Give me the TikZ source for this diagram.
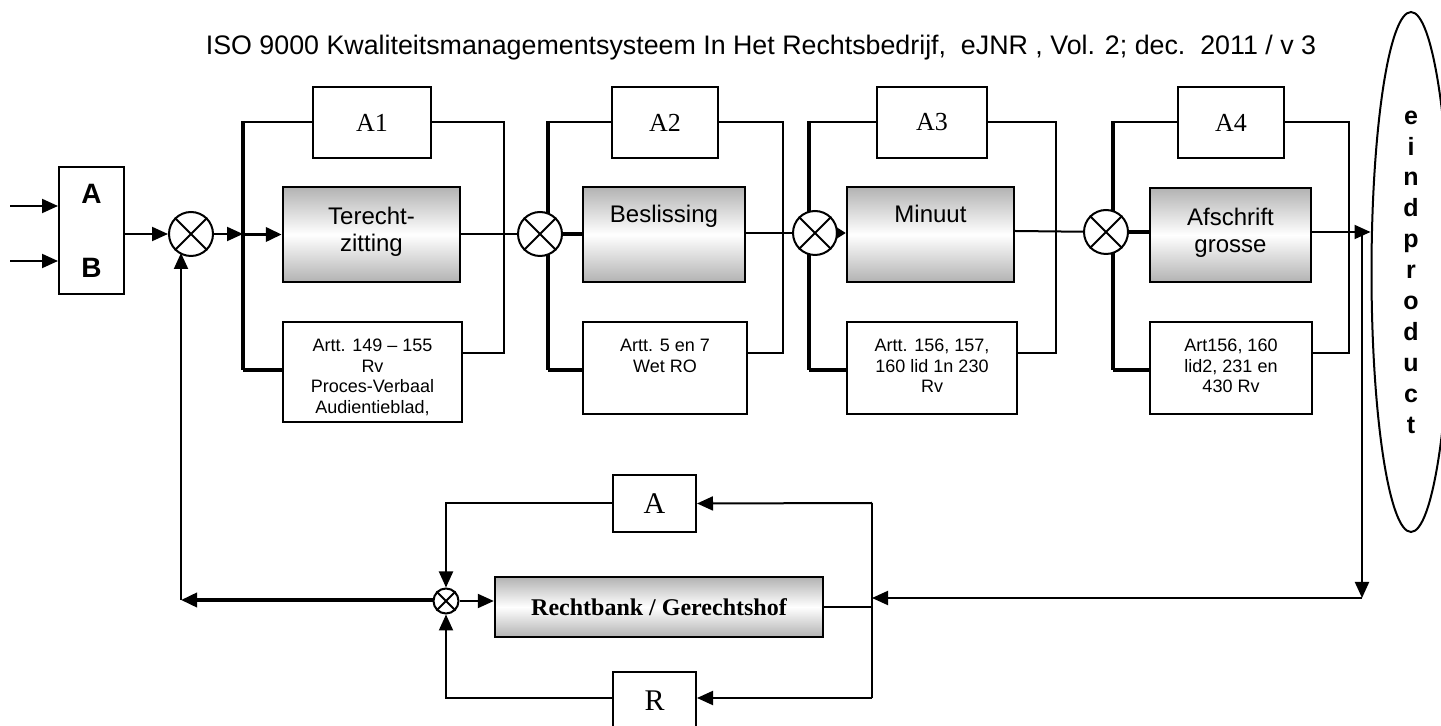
\documentclass[tikz,border=0pt]{standalone}
\usepackage{fontspec}
\setmainfont{Liberation Serif}
\setsansfont{Liberation Sans}
\usetikzlibrary{positioning,arrows.meta,shapes.geometric}

% text in a box of fixed size, first baseline at a given depth
\newcommand{\boxtxt}[4]{\parbox[c][#1][t]{#2}{\centering\rule{0pt}{#3}#4}}

\tikzset{
  line/.style={line width=1pt},
  bar/.style={line width=2pt},
  arr/.style={line width=1pt,-{Triangle[length=8pt,width=7pt]}},
  bararr/.style={line width=1.8pt,-{Triangle[length=8pt,width=7pt]}},
  mixer/.style={circle,draw,line width=1pt,fill=white,minimum size=22pt,inner sep=0pt},
  abox/.style={draw,line width=1pt,fill=white,minimum height=35.5pt,inner sep=0pt,font=\fontsize{13}{15}\selectfont},
  procbox/.style={draw,line width=1.2pt,inner sep=0pt,top color=gray!60,bottom color=gray!60,middle color=white,font=\sffamily\fontsize{12}{13.5}\selectfont},
  artbox/.style={draw,line width=1pt,fill=white,inner sep=0pt,font=\sffamily\fontsize{9}{10.4}\selectfont},
}

\begin{document}
\begin{tikzpicture}[x=0.5pt,y=-0.5pt]
\clip (0,0) rectangle (1441,726);

\node[font=\sffamily\fontsize{13.4}{16}\selectfont] (title) at (761,48)
  {ISO 9000 Kwaliteitsmanagementsysteem In Het Rechtsbedrijf,\ \ eJNR , Vol. 2; dec.\ \ 2011 / v 3};

% rails of the four stages
\foreach \i/\x/\r in {1/243/504,2/548/783,3/809/1056,4/1113/1349}{
  \coordinate (b\i t) at (\x,121);
  \coordinate (b\i b) at (\x,370);
  \coordinate (r\i) at (\r,353);
  \draw[bar] (b\i t) -- (b\i b);
}

% input
\node[draw,line width=1pt,minimum width=32.5pt,minimum height=63.5pt,align=center,
  font=\sffamily\bfseries\fontsize{14}{37}\selectfont] (ab) at (91.5,231) {A\\B};
\coordinate (inA) at (10,206);
\coordinate (inB) at (10,261);
\draw[arr] (inA) -- (inA -| ab.west);
\draw[arr] (inB) -- (inB -| ab.west);

% mixers
\node[mixer] (m1) at (191,234) {};
\node[mixer] (m2) at (540,234) {};
\node[mixer] (m3) at (815,233) {};
\node[mixer] (m4) at (1106,232) {};

% stage boxes
\node[abox,minimum width=59pt] (a1) at (372,122.5) {A1};
\node[abox,minimum width=53pt] (a2) at (665,122.5) {A2};
\node[abox,minimum width=55pt] (a3) at (932,122.5) {A3};
\node[abox,minimum width=53pt] (a4) at (1231,122.5) {A4};

\node[procbox] (t1) at (371.5,234.5) {\boxtxt{47.5pt}{88.5pt}{19pt}{Terecht-\\zitting}};
\node[procbox] (t2) at (664,234.5) {\boxtxt{47.5pt}{81pt}{18pt}{Beslissing}};
\node[procbox] (t3) at (930.5,234.5) {\boxtxt{47.5pt}{83.5pt}{18pt}{Minuut}};
\node[procbox] (t4) at (1230.5,235) {\boxtxt{47pt}{80.5pt}{19pt}{Afschrift\\grosse}};

\node[artbox] (art1) at (372.5,372) {\boxtxt{50pt}{89.5pt}{14.7pt}{Artt. 149 – 155\\Rv\\Proces-Verbaal\\Audientieblad,}};
\node[artbox] (art2) at (665,368) {\boxtxt{46pt}{82pt}{14.7pt}{Artt. 5 en 7\\Wet RO}};
\node[artbox] (art3) at (932,368) {\boxtxt{46pt}{85pt}{14.7pt}{Artt. 156, 157,\\160 lid 1n 230\\Rv}};
\node[artbox] (art4) at (1231,368) {\boxtxt{46pt}{81pt}{14.7pt}{Art156, 160\\lid2, 231 en\\430 Rv}};

% branches of each stage
\foreach \i in {1,2,3,4}{
  \draw[line] (a\i.west) -- (a\i.west -| b\i t);
  \draw[line] (a\i.east) -| (r\i) -- (r\i -| art\i.east);
  \draw[bar] (b\i b) -- (b\i b -| art\i.west);
}

% main line
\draw[arr] (ab.east |- m1) -- (m1);
\draw[arr] (m1) -- (m1 -| b1t);
\draw[bararr] (b1t |- t1) -- (t1.west);
\draw[line] (t1.east |- m2) -- (m2);
\draw[bar] (m2) -- (m2 -| t2.west);
\draw[line] (t2.east |- m3) -- (m3);
\draw[line,-{Triangle[length=5pt,width=6pt]}] (m3) -- (m3 -| t3.west);
\draw[line] (t3.east |- 0,231) -- (m4);
\draw[bar] (m4) -- (m4 -| t4.west);

\foreach \m in {m1,m2,m3,m4}{
  \draw[line] (\m.north west) -- (\m.south east) (\m.north east) -- (\m.south west);
}

% end product
\node[ellipse,draw,line width=1pt,minimum width=39.5pt,minimum height=260pt,inner sep=0pt,align=center,
  font=\sffamily\bfseries\fontsize{12.5}{15.45}\selectfont] (ep) at (1411,272)
  {e\\i\\n\\d\\p\\r\\o\\d\\u\\c\\t};
\draw[arr] (t4.east |- m4) -- (m4 -| ep.west);

% feedback loop
\coordinate (drop) at (1362,232);
\coordinate (dropb) at (1362,598);
\coordinate (rt) at (872,503);
\coordinate (rbot) at (872,698);
\coordinate (fbl) at (181,600);

\node[draw,line width=1.2pt,minimum width=164pt,minimum height=30pt,top color=gray!60,bottom color=gray!60,middle color=white,
  font=\bfseries\fontsize{12}{14}\selectfont] (rb) at (659,607) {Rechtbank / Gerechtshof};
\node[abox,minimum width=41.5pt,minimum height=28.5pt,font=\fontsize{15}{17}\selectfont] (aa) at (654.5,503.5) {A};
\node[abox,minimum width=41.5pt,minimum height=28.5pt,font=\fontsize{15}{17}\selectfont] (rr) at (654.5,700.5) {R};
\node[circle,draw,line width=1pt,fill=white,minimum size=12.5pt,inner sep=0pt] (s) at (446,601) {};
\draw[line] (s.north west) -- (s.south east) (s.north east) -- (s.south west);

\draw[arr] (drop) -- (dropb);
\draw[arr] (dropb) -- (dropb -| rt);
\draw[line] (rb.east) -- (rb.east -| rt);
\draw[arr] (rt) -- (aa.east);
\draw[line] (rt) -- (rbot);
\draw[arr] (rbot) -- (rbot -| rr.east);
\draw[arr] (aa.west) -| (s);
\draw[arr] (rr.west |- rbot) -| (s);
\draw[arr] (s) -- (s -| rb.west);
\draw[bararr] (s.west |- fbl) -- (fbl);
\draw[arr] (fbl) -- (fbl |- 0,253);
\end{tikzpicture}
\end{document}
